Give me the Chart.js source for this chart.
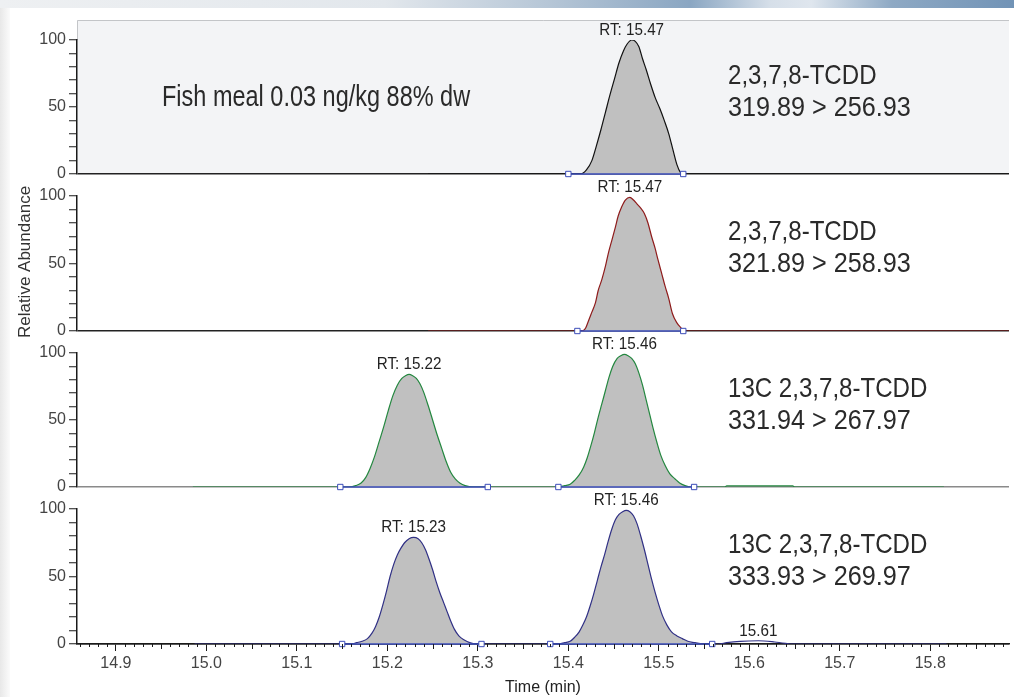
<!DOCTYPE html>
<html>
<head>
<meta charset="utf-8">
<script src="https://cdn.jsdelivr.net/npm/chart.js@4.4.1/dist/chart.umd.min.js"></script>
<style>
  html, body { margin: 0; padding: 0; background: #fff; overflow: hidden; }
  #page { position: relative; width: 1014px; height: 697px; }
  #band { position: absolute; left: 0; top: 0; width: 1014px; height: 8px;
    background: linear-gradient(90deg, #eef0f2 0%, #e2e7ec 38%, #b3c4d5 55%, #8aa6c2 68%, #d6dfe9 76%, #dfe6ee 80%, #8ea9c4 88%, #7193b6 100%); }
  #edge { position: absolute; left: 0; top: 8px; width: 10px; height: 689px;
    background: linear-gradient(90deg, #e8e8e8, #fbfbfb); }
  canvas { position: absolute; left: 0; top: 0; }
</style>
</head>
<body>
<div id="page">
  <div id="band"></div>
  <div id="edge"></div>
  <canvas id="p1" width="1014" height="697"></canvas>
  <canvas id="p2" width="1014" height="697"></canvas>
  <canvas id="p3" width="1014" height="697"></canvas>
  <canvas id="p4" width="1014" height="697"></canvas>
</div>
<script>
// retention time window (min) and axis ticks
const timeMin = 14.857, timeMax = 15.887;
const timeTicks = [14.9, 15.0, 15.1, 15.2, 15.3, 15.4, 15.5, 15.6, 15.7, 15.8];
const abundTicks = [0, 10, 20, 30, 40, 50, 60, 70, 80, 90, 100];
const abundLabels = [0, 50, 100];

const sampleNote = 'Fish meal 0.03 ng/kg 88% dw';

// 319.89 > 256.93
const p1Name = ['2,3,7,8-TCDD', '319.89 > 256.93'];
const p1Time = [15.245, 15.400, 15.414, 15.420, 15.426, 15.431, 15.436, 15.441, 15.446, 15.451, 15.456, 15.461, 15.465, 15.470,
  15.474, 15.478, 15.482, 15.486, 15.491, 15.496, 15.501, 15.506, 15.511, 15.516, 15.520, 15.524, 15.527, 15.887];
const p1Abund = [0, 0, 0, 3, 10, 21, 33, 46, 59, 71, 83, 92, 97, 100,
  99, 95, 86, 78, 67, 57, 49, 40, 30, 17, 7, 1, 0, 0];
const p1Bounds = [[15.400, 15.527]];
const p1Labels = ['RT: 15.47'];
const p1LabelTimes = [15.47];

// 321.89 > 258.93
const p2Name = ['2,3,7,8-TCDD', '321.89 > 258.93'];
const p2Time = [15.245, 15.410, 15.415, 15.419, 15.422, 15.426, 15.430, 15.433, 15.437, 15.441, 15.444, 15.448, 15.452, 15.455,
  15.459, 15.463, 15.468, 15.472, 15.476, 15.480, 15.484, 15.488, 15.492, 15.496, 15.499, 15.503, 15.507, 15.511, 15.515,
  15.520, 15.525, 15.528, 15.887];
const p2Abund = [0, 0, 0, 2, 7, 14, 21, 30, 38, 48, 57, 67, 77, 85,
  92, 97, 99, 97, 94, 91, 87, 80, 70, 61, 53, 43, 33, 24, 13,
  6, 2, 0, 0];
const p2Bounds = [[15.410, 15.527]];
const p2Labels = ['RT: 15.47'];
const p2LabelTimes = [15.468];

// 13C labelled standard, 331.94 > 267.97
const p3Name = ['13C 2,3,7,8-TCDD', '331.94 > 267.97'];
const p3Time = [14.985, 15.150, 15.158, 15.165, 15.171, 15.176, 15.181, 15.186, 15.191, 15.196, 15.201, 15.206, 15.211, 15.216,
  15.220, 15.224, 15.228, 15.232, 15.236, 15.240, 15.245, 15.250, 15.255, 15.260, 15.265, 15.270, 15.275, 15.280, 15.286,
  15.295, 15.389, 15.396, 15.402, 15.407, 15.412, 15.417, 15.421, 15.425, 15.429, 15.433, 15.437, 15.441, 15.445, 15.449,
  15.454, 15.458, 15.462, 15.466, 15.470, 15.474, 15.478, 15.482, 15.486, 15.490, 15.494, 15.498, 15.502, 15.507, 15.512,
  15.518, 15.523, 15.529, 15.535, 15.573, 15.575, 15.648, 15.650, 15.815];
const p3Abund = [0, 0, 0, 1, 3, 7, 14, 23, 34, 45, 57, 68, 76, 81,
  83, 84, 83, 81, 77, 71, 61, 50, 39, 29, 19, 11, 6, 3, 1,
  0, 0, 1, 2, 5, 9, 15, 22, 31, 41, 52, 62, 72, 82, 90,
  96, 98, 99, 98, 96, 92, 85, 76, 65, 54, 43, 33, 24, 16, 10,
  6, 3, 1, 0, 0, 0.8, 0.8, 0, 0];
const p3Bounds = [[15.148, 15.311], [15.389, 15.539]];
const p3Labels = ['RT: 15.22', 'RT: 15.46'];
const p3LabelTimes = [15.224, 15.462];

// 13C labelled standard, 333.93 > 269.97
const p4Name = ['13C 2,3,7,8-TCDD', '333.93 > 269.97'];
const p4Time = [14.987, 15.150, 15.160, 15.166, 15.172, 15.178, 15.183, 15.187, 15.191, 15.195, 15.199, 15.203, 15.207, 15.211,
  15.215, 15.219, 15.224, 15.229, 15.234, 15.238, 15.242, 15.246, 15.250, 15.254, 15.258, 15.262, 15.266, 15.270, 15.274,
  15.279, 15.285, 15.291, 15.298, 15.388, 15.396, 15.402, 15.407, 15.412, 15.416, 15.420, 15.424, 15.428, 15.432, 15.436,
  15.440, 15.444, 15.448, 15.452, 15.456, 15.460, 15.464, 15.468, 15.472, 15.476, 15.480, 15.484, 15.488, 15.492, 15.496,
  15.500, 15.504, 15.509, 15.514, 15.520, 15.526, 15.532, 15.540, 15.548, 15.566, 15.575, 15.590, 15.610, 15.628, 15.640,
  15.645, 15.818];
const p4Abund = [0, 0, 0, 1, 2, 4, 8, 13, 20, 29, 39, 50, 59, 66,
  71, 75, 78, 79, 78, 75, 70, 63, 55, 46, 38, 31, 24, 17, 11,
  6, 3, 1, 0, 0, 1, 2, 5, 9, 14, 20, 28, 37, 47, 57,
  66, 76, 85, 92, 96, 98, 99, 98, 95, 89, 80, 70, 59, 48, 38,
  29, 21, 14, 9, 6, 4, 2, 1, 0, 0, 1, 2, 2.4, 1.5, 0.5,
  0, 0];
const p4Bounds = [[15.150, 15.304], [15.380, 15.559]];
const p4Labels = ['RT: 15.23', 'RT: 15.46', '15.61'];
const p4LabelTimes = [15.229, 15.464, 15.610];

const H = 697;
const SANS = '"Liberation Sans", Arial, sans-serif';
const INK = '#1a1a1a';
const TICK = '#444';
const BLUE = '#3b4cb8';
const PEAK_FILL = '#c0c0c0';

// gray fill only inside the integrated windows
function peakFill(bounds) {
  return (c) => {
    const chart = c.chart, a = chart.chartArea;
    if (!a) return 'rgba(0,0,0,0)';
    const xs = chart.scales.x, w = a.right - a.left;
    const g = chart.ctx.createLinearGradient(a.left, 0, a.right, 0);
    const clamp = v => Math.min(Math.max(v, 0), 1);
    for (const [s, e] of bounds) {
      const ps = clamp((xs.getPixelForValue(s) - a.left) / w);
      const pe = clamp((xs.getPixelForValue(e) - a.left) / w);
      g.addColorStop(ps, 'rgba(192,192,192,0)');
      g.addColorStop(ps, PEAK_FILL);
      g.addColorStop(pe, PEAK_FILL);
      g.addColorStop(pe, 'rgba(192,192,192,0)');
    }
    return g;
  };
}

// integration baselines: pairs of points split by a gap
function boundsToPoints(bounds) {
  const pts = [];
  bounds.forEach(([s, e], i) => {
    if (i > 0) pts.push({ x: (bounds[i - 1][1] + s) / 2, y: null });
    pts.push({ x: s, y: 0 }, { x: e, y: 0 });
  });
  return pts;
}

// condensed lettering: regular face squeezed horizontally
function narrowText(ctx, txt, x, y, size, squeeze) {
  ctx.save();
  ctx.font = size + 'px ' + SANS;
  ctx.translate(x, y);
  ctx.scale(squeeze, 1);
  ctx.fillText(txt, 0, 0);
  ctx.restore();
}

const panelDeco = {
  id: 'panelDeco',
  beforeDraw(chart, args, o) {
    if (!o.shaded) return;
    const { ctx, chartArea: a } = chart;
    ctx.save();
    ctx.fillStyle = '#f3f4f6';
    ctx.fillRect(a.left, a.top - 20, a.right - a.left, a.bottom - a.top + 20);
    ctx.strokeStyle = '#c3c5c8';
    ctx.lineWidth = 1;
    ctx.beginPath();
    ctx.moveTo(a.left + 0.5, a.top);
    ctx.lineTo(a.left + 0.5, a.top - 19.5);
    ctx.lineTo(a.right, a.top - 19.5);
    ctx.stroke();
    ctx.restore();
  },
  afterDraw(chart, args, o) {
    const { ctx, chartArea: a } = chart;
    const xs = chart.scales.x, ys = chart.scales.y;
    ctx.save();

    // peak labels above the apex of each peak
    ctx.fillStyle = '#222';
    ctx.textAlign = 'center';
    ctx.textBaseline = 'alphabetic';
    o.labels.forEach((txt, i) => {
      const t = o.labelTimes[i];
      let best = -1;
      o.time.forEach((tt, j) => {
        if (Math.abs(tt - t) <= 0.015 && (best < 0 || o.abund[j] > o.abund[best])) best = j;
      });
      if (best < 0) return;
      const x = xs.getPixelForValue(o.time[best]);
      const y = ys.getPixelForValue(o.abund[best]);
      narrowText(ctx, txt, x, y - 5, 16, 0.95);
    });

    // compound and transition
    ctx.fillStyle = '#2a2a2a';
    ctx.textAlign = 'left';
    narrowText(ctx, o.name[0], 728, a.top + 44, 28, 0.86);
    narrowText(ctx, o.name[1], 728, a.top + 76, 28, 0.9);
    if (o.note) narrowText(ctx, o.note, 162, a.top + 66, 29, 0.81);

    if (o.yTitle) {
      ctx.save();
      ctx.translate(25, 262);
      ctx.rotate(-Math.PI / 2);
      ctx.textAlign = 'center';
      ctx.textBaseline = 'middle';
      ctx.font = '17px ' + SANS;
      ctx.fillStyle = '#333';
      ctx.fillText(o.yTitle, 0, 0);
      ctx.restore();
    }

    // minor time ticks every 0.01 min
    if (o.minorTicks) {
      ctx.strokeStyle = INK;
      ctx.lineWidth = 1;
      ctx.beginPath();
      for (let k = Math.ceil(timeMin * 100); k <= Math.floor(timeMax * 100); k++) {
        if (k % 10 === 0) continue;
        const len = k % 5 === 0 ? 5 : 3;
        const px = Math.round(xs.getPixelForValue(k / 100)) + 0.5;
        ctx.moveTo(px, xs.top);
        ctx.lineTo(px, xs.top + len);
      }
      ctx.stroke();
    }
    ctx.restore();
  }
};

function makePanel(id, p) {
  const [top, zero] = p.frame;
  return new Chart(document.getElementById(id), {
    type: 'line',
    data: {
      datasets: [
        { // integration baseline with boundary markers
          data: boundsToPoints(p.bounds),
          borderColor: BLUE, borderWidth: 1.3,
          pointStyle: 'rect', pointRadius: 3.8, pointBorderWidth: 1,
          pointBorderColor: BLUE, pointBackgroundColor: '#fff',
          spanGaps: false, fill: false, clip: false, order: 0
        },
        { // chromatogram trace
          data: p.time.map((t, i) => ({ x: t, y: p.abund[i] })),
          borderColor: p.color, borderWidth: 1.2, pointRadius: 0,
          fill: 'origin', backgroundColor: peakFill(p.bounds),
          cubicInterpolationMode: 'monotone', order: 1
        }
      ]
    },
    options: {
      responsive: false,
      animation: false,
      events: [],
      layout: { padding: { top: top, bottom: p.axis ? 0 : H - zero, left: 0, right: 0 } },
      plugins: {
        legend: { display: false },
        tooltip: { enabled: false },
        panelDeco: {
          shaded: !!p.shaded, note: p.note, yTitle: p.yTitle, minorTicks: !!p.axis,
          name: p.name, labels: p.labels, labelTimes: p.labelTimes, time: p.time, abund: p.abund
        }
      },
      scales: {
        x: {
          type: 'linear', min: timeMin, max: timeMax, display: !!p.axis,
          afterBuildTicks: s => { s.ticks = timeTicks.map(v => ({ value: v })); },
          afterFit: s => { s.height = p.axis ? H - zero : 0; },
          ticks: { autoSkip: false, maxRotation: 0, padding: 3, color: TICK,
            font: { family: SANS, size: 16 }, callback: v => Number(v).toFixed(1) },
          grid: { drawOnChartArea: false, tickLength: 7, tickColor: INK, tickWidth: 1 },
          border: { color: INK, width: 1.5 },
          title: { display: true, text: 'Time (min)', color: '#222',
            font: { family: SANS, size: 16 }, padding: { top: 0, bottom: 0 } }
        },
        y: {
          type: 'linear', min: 0, max: 100,
          afterFit: s => { s.width = 77; },
          afterBuildTicks: s => { s.ticks = abundTicks.map(v => ({ value: v })); },
          ticks: { autoSkip: false, padding: 3, color: TICK, font: { family: SANS, size: 16 },
            callback: v => abundLabels.includes(v) ? String(v) : '' },
          grid: {
            color: c => (c.tick && c.tick.value === 0) ? p.baseColor : 'rgba(0,0,0,0)',
            lineWidth: 1.5, tickColor: INK, tickWidth: 1, tickLength: 8
          },
          border: { display: true, color: INK, width: 1.5 }
        }
      }
    },
    plugins: [panelDeco]
  });
}

makePanel('p1', { frame: [40, 174], shaded: true, note: sampleNote, color: '#111111', baseColor: '#222',
  name: p1Name, time: p1Time, abund: p1Abund, bounds: p1Bounds, labels: p1Labels, labelTimes: p1LabelTimes });
makePanel('p2', { frame: [196, 331], color: '#8e1b1b', baseColor: '#222', yTitle: 'Relative Abundance',
  name: p2Name, time: p2Time, abund: p2Abund, bounds: p2Bounds, labels: p2Labels, labelTimes: p2LabelTimes });
makePanel('p3', { frame: [353, 487], color: '#23873f', baseColor: '#8a8a8a',
  name: p3Name, time: p3Time, abund: p3Abund, bounds: p3Bounds, labels: p3Labels, labelTimes: p3LabelTimes });
makePanel('p4', { frame: [509, 644], axis: true, color: '#303085', baseColor: '#333',
  name: p4Name, time: p4Time, abund: p4Abund, bounds: p4Bounds, labels: p4Labels, labelTimes: p4LabelTimes });
</script>
</body>
</html>
